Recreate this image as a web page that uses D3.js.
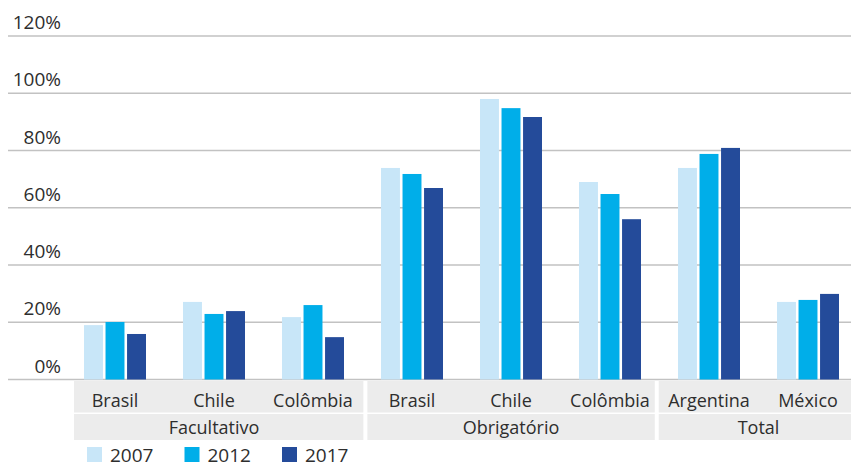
<!DOCTYPE html>
<html>
<head>
<meta charset="utf-8">
<script src="https://cdn.jsdelivr.net/npm/d3@7"></script>
<style>
  html, body { margin: 0; padding: 0; background: #fff; }
  svg { display: block; }
  text { font-family: "Open Sans", "Noto Sans", sans-serif; font-weight: 400; fill: #2e2e2e; }
</style>
</head>
<body>
<svg id="chart" width="851" height="466"></svg>
<script>
// Regime groups and the countries under each one
const groups = ["Facultativo", "Obrigatório", "Total"];
const countries = [
  ["Brasil", "Chile", "Colômbia"],
  ["Brasil", "Chile", "Colômbia"],
  ["Argentina", "México"]
];
const years = ["2007", "2012", "2017"];

// Share per country, one array per year (in the same order as the countries above)
const values2007 = [19.0, 27.1, 21.8, 73.9, 98.0, 69.0, 73.9, 27.1];
const values2012 = [20.1, 22.9, 26.0, 71.8, 94.8, 64.8, 78.8, 27.8];
const values2017 = [15.9, 23.9, 14.8, 66.9, 91.7, 56.0, 80.9, 29.9];

const yTicks = [0, 20, 40, 60, 80, 100, 120];
const colors = ["#c8e6f8", "#00aee9", "#244b9a"];

// Flat list of categories with a unique key
const cats = [];
groups.forEach((g, gi) => countries[gi].forEach(c => cats.push({ group: g, name: c, key: g + "|" + c })));
const series = [values2007, values2012, values2017];
const rows = cats.map((c, i) => ({ ...c, vals: years.map((y, j) => ({ year: y, v: series[j][i] })) }));

const W = 851, H = 466;
const svg = d3.select("#chart");

const x = d3.scaleBand().domain(cats.map(c => c.key)).range([65.5, 857.5]).padding(0);
const xLab = d3.scaleBand().domain(cats.map(c => c.key)).range([74, 851]).padding(0);
const xs = d3.scaleBand().domain(years).range([18.5, x.bandwidth() - 18.5]).paddingInner(0.12);
const y = d3.scaleLinear().domain([0, 120]).range([379.5, 36]);

// Gridlines
svg.append("g").selectAll("line").data(yTicks).join("line")
  .attr("x1", 8).attr("x2", W)
  .attr("y1", d => y(d)).attr("y2", d => y(d))
  .attr("stroke", "#c2c2c2").attr("stroke-width", 1.6);

// Y tick labels
svg.append("g").selectAll("text").data(yTicks).join("text")
  .attr("x", 61).attr("y", d => y(d) - 7)
  .attr("text-anchor", "end")
  .style("font-size", "19px")
  .text(d => d + "%");

// Bars
const cg = svg.append("g").selectAll("g").data(rows).join("g")
  .attr("transform", d => `translate(${x(d.key)},0)`);
cg.selectAll("rect").data(d => d.vals).join("rect")
  .attr("x", d => xs(d.year)).attr("width", xs.bandwidth())
  .attr("y", d => y(d.v)).attr("height", d => y(0) - y(d.v))
  .attr("fill", (d, i) => colors[i]);

// Category axis: grey cells per group, country row then group row
const gap = 2;
const catTop = 381, catBottom = 412.5, grpTop = 414, grpBottom = 440;
groups.forEach((g, gi) => {
  const keys = cats.filter(c => c.group === g).map(c => c.key);
  let x0 = xLab(keys[0]) + (gi === 0 ? 0 : gap);
  let x1 = Math.min(W, xLab(keys[keys.length - 1]) + xLab.bandwidth() - (gi === groups.length - 1 ? 0 : gap));
  svg.append("rect").attr("x", x0).attr("y", catTop).attr("width", x1 - x0).attr("height", catBottom - catTop).attr("fill", "#ececec");
  svg.append("rect").attr("x", x0).attr("y", grpTop).attr("width", x1 - x0).attr("height", grpBottom - grpTop).attr("fill", "#ececec");
  const centers = keys.map(k => x(k) + x.bandwidth() / 2);
  svg.append("text")
    .attr("x", d3.mean(centers)).attr("y", 433.5)
    .attr("text-anchor", "middle").style("font-size", "18px")
    .text(g);
});

svg.append("g").selectAll("text").data(cats).join("text")
  .attr("x", d => x(d.key) + x.bandwidth() / 2).attr("y", 406.5)
  .attr("text-anchor", "middle").style("font-size", "18px")
  .text(d => d.name);

// Legend
const lg = svg.append("g").selectAll("g").data(years).join("g")
  .attr("transform", (d, i) => `translate(${87 + i * 97.5},447)`);
lg.append("rect").attr("width", 15).attr("height", 15).attr("fill", (d, i) => colors[i]);
lg.append("text").attr("x", 23).attr("y", 14.5).style("font-size", "19px").text(d => d);
</script>
</body>
</html>
